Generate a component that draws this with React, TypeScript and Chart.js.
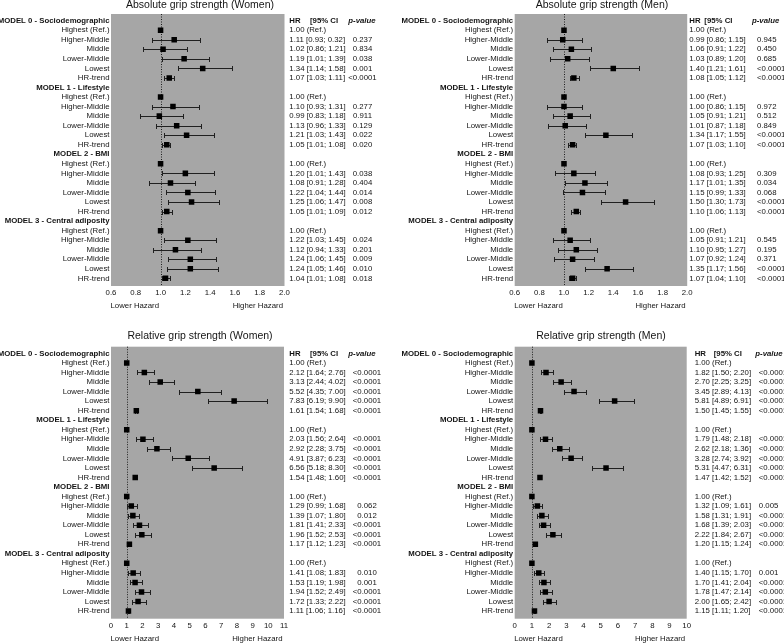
import React, { useEffect, useRef } from "react";
import { Chart, registerables } from "chart.js";
Chart.register(...registerables);

const FONT = '"Liberation Sans", Arial, Helvetica, sans-serif';

const modelHeadings = [
  "MODEL 0 - Sociodemographic",
  "MODEL 1 - Lifestyle",
  "MODEL 2 - BMI",
  "MODEL 3 - Central adiposity",
];
const categories = ["Highest (Ref.)", "Higher-Middle", "Middle", "Lower-Middle", "Lowest", "HR-trend"];

// Absolute grip strength (Women)
const absWomenHR = [1.0, 1.11, 1.02, 1.19, 1.34, 1.07, 1.0, 1.1, 0.99, 1.13, 1.21, 1.05, 1.0, 1.2, 1.08, 1.22, 1.25, 1.05, 1.0, 1.22, 1.12, 1.24, 1.24, 1.04];
const absWomenLo = [null, 0.93, 0.86, 1.01, 1.14, 1.03, null, 0.93, 0.83, 0.96, 1.03, 1.01, null, 1.01, 0.91, 1.04, 1.06, 1.01, null, 1.03, 0.94, 1.06, 1.05, 1.01];
const absWomenHi = [null, 1.32, 1.21, 1.39, 1.58, 1.11, null, 1.31, 1.18, 1.33, 1.43, 1.08, null, 1.43, 1.28, 1.44, 1.47, 1.09, null, 1.45, 1.33, 1.45, 1.46, 1.08];
const absWomenP = ["", "0.237", "0.834", "0.038", "0.001", "<0.0001", "", "0.277", "0.911", "0.129", "0.022", "0.020", "", "0.038", "0.404", "0.014", "0.008", "0.012", "", "0.024", "0.201", "0.009", "0.010", "0.018"];
const absWomenHiPrinted = { 1: "0.32" }; // as printed in the source table

// Absolute grip strength (Men)
const absMenHR = [1.0, 0.99, 1.06, 1.03, 1.4, 1.08, 1.0, 1.0, 1.05, 1.01, 1.34, 1.07, 1.0, 1.08, 1.17, 1.15, 1.5, 1.1, 1.0, 1.05, 1.1, 1.07, 1.35, 1.07];
const absMenLo = [null, 0.86, 0.91, 0.89, 1.21, 1.05, null, 0.86, 0.91, 0.87, 1.17, 1.03, null, 0.93, 1.01, 0.99, 1.3, 1.06, null, 0.91, 0.95, 0.92, 1.17, 1.04];
const absMenHi = [null, 1.15, 1.22, 1.2, 1.61, 1.12, null, 1.15, 1.21, 1.18, 1.55, 1.1, null, 1.25, 1.35, 1.33, 1.73, 1.13, null, 1.21, 1.27, 1.24, 1.56, 1.1];
const absMenP = ["", "0.945", "0.450", "0.685", "<0.0001", "<0.0001", "", "0.972", "0.512", "0.849", "<0.0001", "<0.0001", "", "0.309", "0.034", "0.068", "<0.0001", "<0.0001", "", "0.545", "0.195", "0.371", "<0.0001", "<0.0001"];

// Relative grip strength (Women)
const relWomenHR = [1.0, 2.12, 3.13, 5.52, 7.83, 1.61, 1.0, 2.03, 2.92, 4.91, 6.56, 1.54, 1.0, 1.29, 1.39, 1.81, 1.96, 1.17, 1.0, 1.41, 1.53, 1.94, 1.72, 1.11];
const relWomenLo = [null, 1.64, 2.44, 4.35, 6.19, 1.54, null, 1.56, 2.28, 3.87, 5.18, 1.48, null, 0.99, 1.07, 1.41, 1.52, 1.12, null, 1.08, 1.19, 1.52, 1.33, 1.06];
const relWomenHi = [null, 2.76, 4.02, 7.0, 9.9, 1.68, null, 2.64, 3.75, 6.23, 8.3, 1.6, null, 1.68, 1.8, 2.33, 2.53, 1.23, null, 1.83, 1.98, 2.49, 2.22, 1.16];
const relWomenP = ["", "<0.0001", "<0.0001", "<0.0001", "<0.0001", "<0.0001", "", "<0.0001", "<0.0001", "<0.0001", "<0.0001", "<0.0001", "", "0.062", "0.012", "<0.0001", "<0.0001", "<0.0001", "", "0.010", "0.001", "<0.0001", "<0.0001", "<0.0001"];

// Relative grip strength (Men)
const relMenHR = [1.0, 1.82, 2.7, 3.45, 5.81, 1.5, 1.0, 1.79, 2.62, 3.28, 5.31, 1.47, 1.0, 1.32, 1.58, 1.68, 2.22, 1.2, 1.0, 1.4, 1.7, 1.78, 2.0, 1.15];
const relMenLo = [null, 1.5, 2.25, 2.89, 4.89, 1.45, null, 1.48, 2.18, 2.74, 4.47, 1.42, null, 1.09, 1.31, 1.39, 1.84, 1.15, null, 1.15, 1.41, 1.47, 1.65, 1.11];
const relMenHi = [null, 2.2, 3.25, 4.13, 6.91, 1.55, null, 2.18, 3.16, 3.92, 6.31, 1.52, null, 1.61, 1.91, 2.03, 2.67, 1.24, null, 1.7, 2.04, 2.14, 2.42, 1.2];
const relMenP = ["", "<0.0001", "<0.0001", "<0.0001", "<0.0001", "<0.0001", "", "<0.0001", "<0.0001", "<0.0001", "<0.0001", "<0.0001", "", "0.005", "<0.0001", "<0.0001", "<0.0001", "<0.0001", "", "0.001", "<0.0001", "<0.0001", "<0.0001", "<0.0001"];
const relMenHiPrinted = { 8: "1.36" }; // as printed in the source table

const absTicks = [0.6, 0.8, 1.0, 1.2, 1.4, 1.6, 1.8, 2.0];
const relWomenTicks = [0, 1, 2, 3, 4, 5, 6, 7, 8, 9, 10, 11];
const relMenTicks = [0, 1, 2, 3, 4, 5, 6, 7, 8, 9, 10];

const rowLabels: string[] = [];
modelHeadings.forEach((h) => {
  rowLabels.push(h);
  categories.forEach((c) => rowLabels.push(c));
});
const rowOf = (i: number) => Math.floor(i / 6) * 7 + (i % 6) + 1;

const GREY = "#a6a6a6";
const TEXT = "#141414";
const FS = 7.8;

type Panel = {
  title: string;
  hr: number[];
  lo: (number | null)[];
  hi: (number | null)[];
  p: string[];
  hiPrinted: Record<number, string>;
  ticks: number[];
  decimals: number;
  left: number;
  top: number;
  width: number;
  height: number;
  area: { left: number; right: number; top: number; bottom: number };
  cols: { hr: number; ci: number; p: number; pv: number; pAlign: CanvasTextAlign };
  titleX: number;
  titleY: number;
};

const panels: Panel[] = [
  {
    title: "Absolute grip strength (Women)",
    hr: absWomenHR, lo: absWomenLo, hi: absWomenHi, p: absWomenP, hiPrinted: absWomenHiPrinted,
    ticks: absTicks, decimals: 1,
    left: 0, top: 0, width: 392, height: 321,
    area: { left: 111, right: 284.5, top: 14, bottom: 286 },
    cols: { hr: 289.3, ci: 310, p: 348.3, pv: 362.5, pAlign: "center" },
    titleX: 200, titleY: 5.5,
  },
  {
    title: "Absolute grip strength (Men)",
    hr: absMenHR, lo: absMenLo, hi: absMenHi, p: absMenP, hiPrinted: {},
    ticks: absTicks, decimals: 1,
    left: 392, top: 0, width: 392, height: 321,
    area: { left: 122.7, right: 295.2, top: 14, bottom: 286 },
    cols: { hr: 297.3, ci: 312.3, p: 360, pv: 365, pAlign: "left" },
    titleX: 210, titleY: 5.5,
  },
  {
    title: "Relative grip strength (Women)",
    hr: relWomenHR, lo: relWomenLo, hi: relWomenHi, p: relWomenP, hiPrinted: {},
    ticks: relWomenTicks, decimals: 0,
    left: 0, top: 321, width: 392, height: 322,
    area: { left: 111, right: 284, top: 25.7, bottom: 297.7 },
    cols: { hr: 289.3, ci: 310, p: 348.3, pv: 367, pAlign: "center" },
    titleX: 200, titleY: 15,
  },
  {
    title: "Relative grip strength (Men)",
    hr: relMenHR, lo: relMenLo, hi: relMenHi, p: relMenP, hiPrinted: relMenHiPrinted,
    ticks: relMenTicks, decimals: 0,
    left: 392, top: 321, width: 392, height: 322,
    area: { left: 122.7, right: 294.7, top: 25.7, bottom: 297.7 },
    cols: { hr: 302.7, ci: 321.7, p: 363.3, pv: 366.8, pAlign: "left" },
    titleX: 209, titleY: 15,
  },
];

function makePlugin(pn: Panel) {
  return {
    id: "forest",
    beforeDraw(chart: any) {
      const { ctx, chartArea: a } = chart;
      ctx.save();
      ctx.fillStyle = GREY;
      ctx.fillRect(a.left, a.top, a.right - a.left, a.bottom - a.top);
      ctx.restore();
    },
    beforeDatasetsDraw(chart: any) {
      const { ctx, chartArea: a, scales } = chart;
      const xs = scales.x;
      const ys = scales.y;
      ctx.save();
      // reference line at HR = 1
      const x1 = Math.round(xs.getPixelForValue(1)) + 0.5;
      ctx.strokeStyle = "#1e1e1e";
      ctx.lineWidth = 1;
      ctx.setLineDash([1, 1.5]);
      ctx.beginPath();
      ctx.moveTo(x1, a.top);
      ctx.lineTo(x1, a.bottom);
      ctx.stroke();
      ctx.setLineDash([]);
      // error bars
      ctx.strokeStyle = "#202020";
      for (let i = 0; i < pn.hr.length; i++) {
        const lo = pn.lo[i];
        const hi = pn.hi[i];
        if (lo == null || hi == null) continue;
        const y = Math.round(ys.getPixelForValue(rowOf(i))) + 0.5;
        const xl = Math.round(xs.getPixelForValue(lo)) + 0.5;
        const xr = Math.round(xs.getPixelForValue(hi)) + 0.5;
        ctx.beginPath();
        ctx.moveTo(xl, y);
        ctx.lineTo(xr, y);
        ctx.moveTo(xl, y - 2.5);
        ctx.lineTo(xl, y + 2.5);
        ctx.moveTo(xr, y - 2.5);
        ctx.lineTo(xr, y + 2.5);
        ctx.stroke();
      }
      ctx.restore();
    },
    afterDraw(chart: any) {
      const { ctx, chartArea: a, scales } = chart;
      const ys = scales.y;
      ctx.save();
      ctx.fillStyle = TEXT;
      ctx.textBaseline = "middle";
      // title
      ctx.font = `10.5px ${FONT}`;
      ctx.textAlign = "center";
      ctx.fillText(pn.title, pn.titleX, pn.titleY);
      // header row
      const y0 = ys.getPixelForValue(0);
      ctx.textAlign = "left";
      ctx.font = `bold ${FS}px ${FONT}`;
      ctx.fillText("HR", pn.cols.hr, y0);
      ctx.fillText("[95% CI", pn.cols.ci, y0);
      ctx.font = `italic bold ${FS}px ${FONT}`;
      ctx.fillText("p-value", pn.cols.p, y0);
      // values
      ctx.font = `${FS}px ${FONT}`;
      for (let i = 0; i < pn.hr.length; i++) {
        const y = ys.getPixelForValue(rowOf(i));
        const lo = pn.lo[i];
        const hi = pn.hi[i];
        ctx.textAlign = "left";
        if (lo == null || hi == null) {
          ctx.fillText(`${pn.hr[i].toFixed(2)} (Ref.)`, pn.cols.hr, y);
          continue;
        }
        const hiTxt = pn.hiPrinted[i] ?? hi.toFixed(2);
        ctx.fillText(`${pn.hr[i].toFixed(2)} [${lo.toFixed(2)}; ${hiTxt}]`, pn.cols.hr, y);
        ctx.textAlign = pn.cols.pAlign;
        ctx.fillText(pn.p[i], pn.cols.pv, y);
      }
      // hazard direction labels
      const yl = a.bottom + 19.8;
      ctx.textAlign = "left";
      ctx.fillText("Lower Hazard", a.left - 0.5, yl);
      ctx.textAlign = "right";
      ctx.fillText("Higher Hazard", a.right - 1.5, yl);
      ctx.restore();
    },
  };
}

function ForestPanel({ pn }: { pn: Panel }) {
  const ref = useRef<HTMLCanvasElement | null>(null);
  useEffect(() => {
    if (!ref.current) return;
    const points = pn.hr.map((v, i) => ({ x: v, y: rowOf(i) }));
    const chart = new Chart(ref.current, {
      type: "scatter",
      data: {
        datasets: [
          {
            data: points,
            pointStyle: "rect",
            pointRadius: 3.9,
            pointHoverRadius: 3.9,
            backgroundColor: "#000",
            borderWidth: 0,
            showLine: false,
          },
        ],
      },
      options: {
        animation: false,
        responsive: false,
        devicePixelRatio: 1,
        events: [],
        layout: {
          padding: { left: 0, top: pn.area.top, right: pn.width - pn.area.right, bottom: 0 },
        },
        plugins: { legend: { display: false }, tooltip: { enabled: false }, title: { display: false } },
        scales: {
          x: {
            type: "linear",
            min: pn.ticks[0],
            max: pn.ticks[pn.ticks.length - 1],
            grid: { display: false, drawTicks: false },
            border: { display: false },
            afterBuildTicks: (s: any) => {
              s.ticks = pn.ticks.map((v) => ({ value: v }));
            },
            afterFit: (s: any) => {
              s.height = pn.height - pn.area.bottom;
            },
            ticks: {
              autoSkip: false,
              maxRotation: 0,
              padding: 2.3,
              color: TEXT,
              font: { family: FONT, size: FS },
              callback: (v: any) => Number(v).toFixed(pn.decimals),
            },
          },
          y: {
            type: "linear",
            reverse: true,
            min: -0.7,
            max: 27.8,
            grid: { display: false, drawTicks: false },
            border: { display: false },
            afterBuildTicks: (s: any) => {
              s.ticks = rowLabels.map((_, i) => ({ value: i }));
            },
            afterFit: (s: any) => {
              s.width = pn.area.left;
            },
            ticks: {
              autoSkip: false,
              padding: 1.5,
              color: TEXT,
              font: (c: any) => ({
                family: FONT,
                size: FS,
                weight: c.tick && c.tick.value % 7 === 0 ? "bold" : "normal",
              }),
              callback: (v: any) => rowLabels[Math.round(Number(v))] ?? "",
            },
          },
        },
      },
      plugins: [makePlugin(pn)],
    } as any);
    return () => chart.destroy();
  }, [pn]);
  return (
    <canvas
      ref={ref}
      width={pn.width}
      height={pn.height}
      style={{ position: "absolute", left: pn.left, top: pn.top, width: pn.width, height: pn.height }}
    />
  );
}

export default function App() {
  return (
    <div style={{ position: "absolute", left: 0, top: 0, width: 784, height: 643, background: "#fff", overflow: "hidden" }}>
      {panels.map((pn, i) => (
        <ForestPanel key={i} pn={pn} />
      ))}
    </div>
  );
}
